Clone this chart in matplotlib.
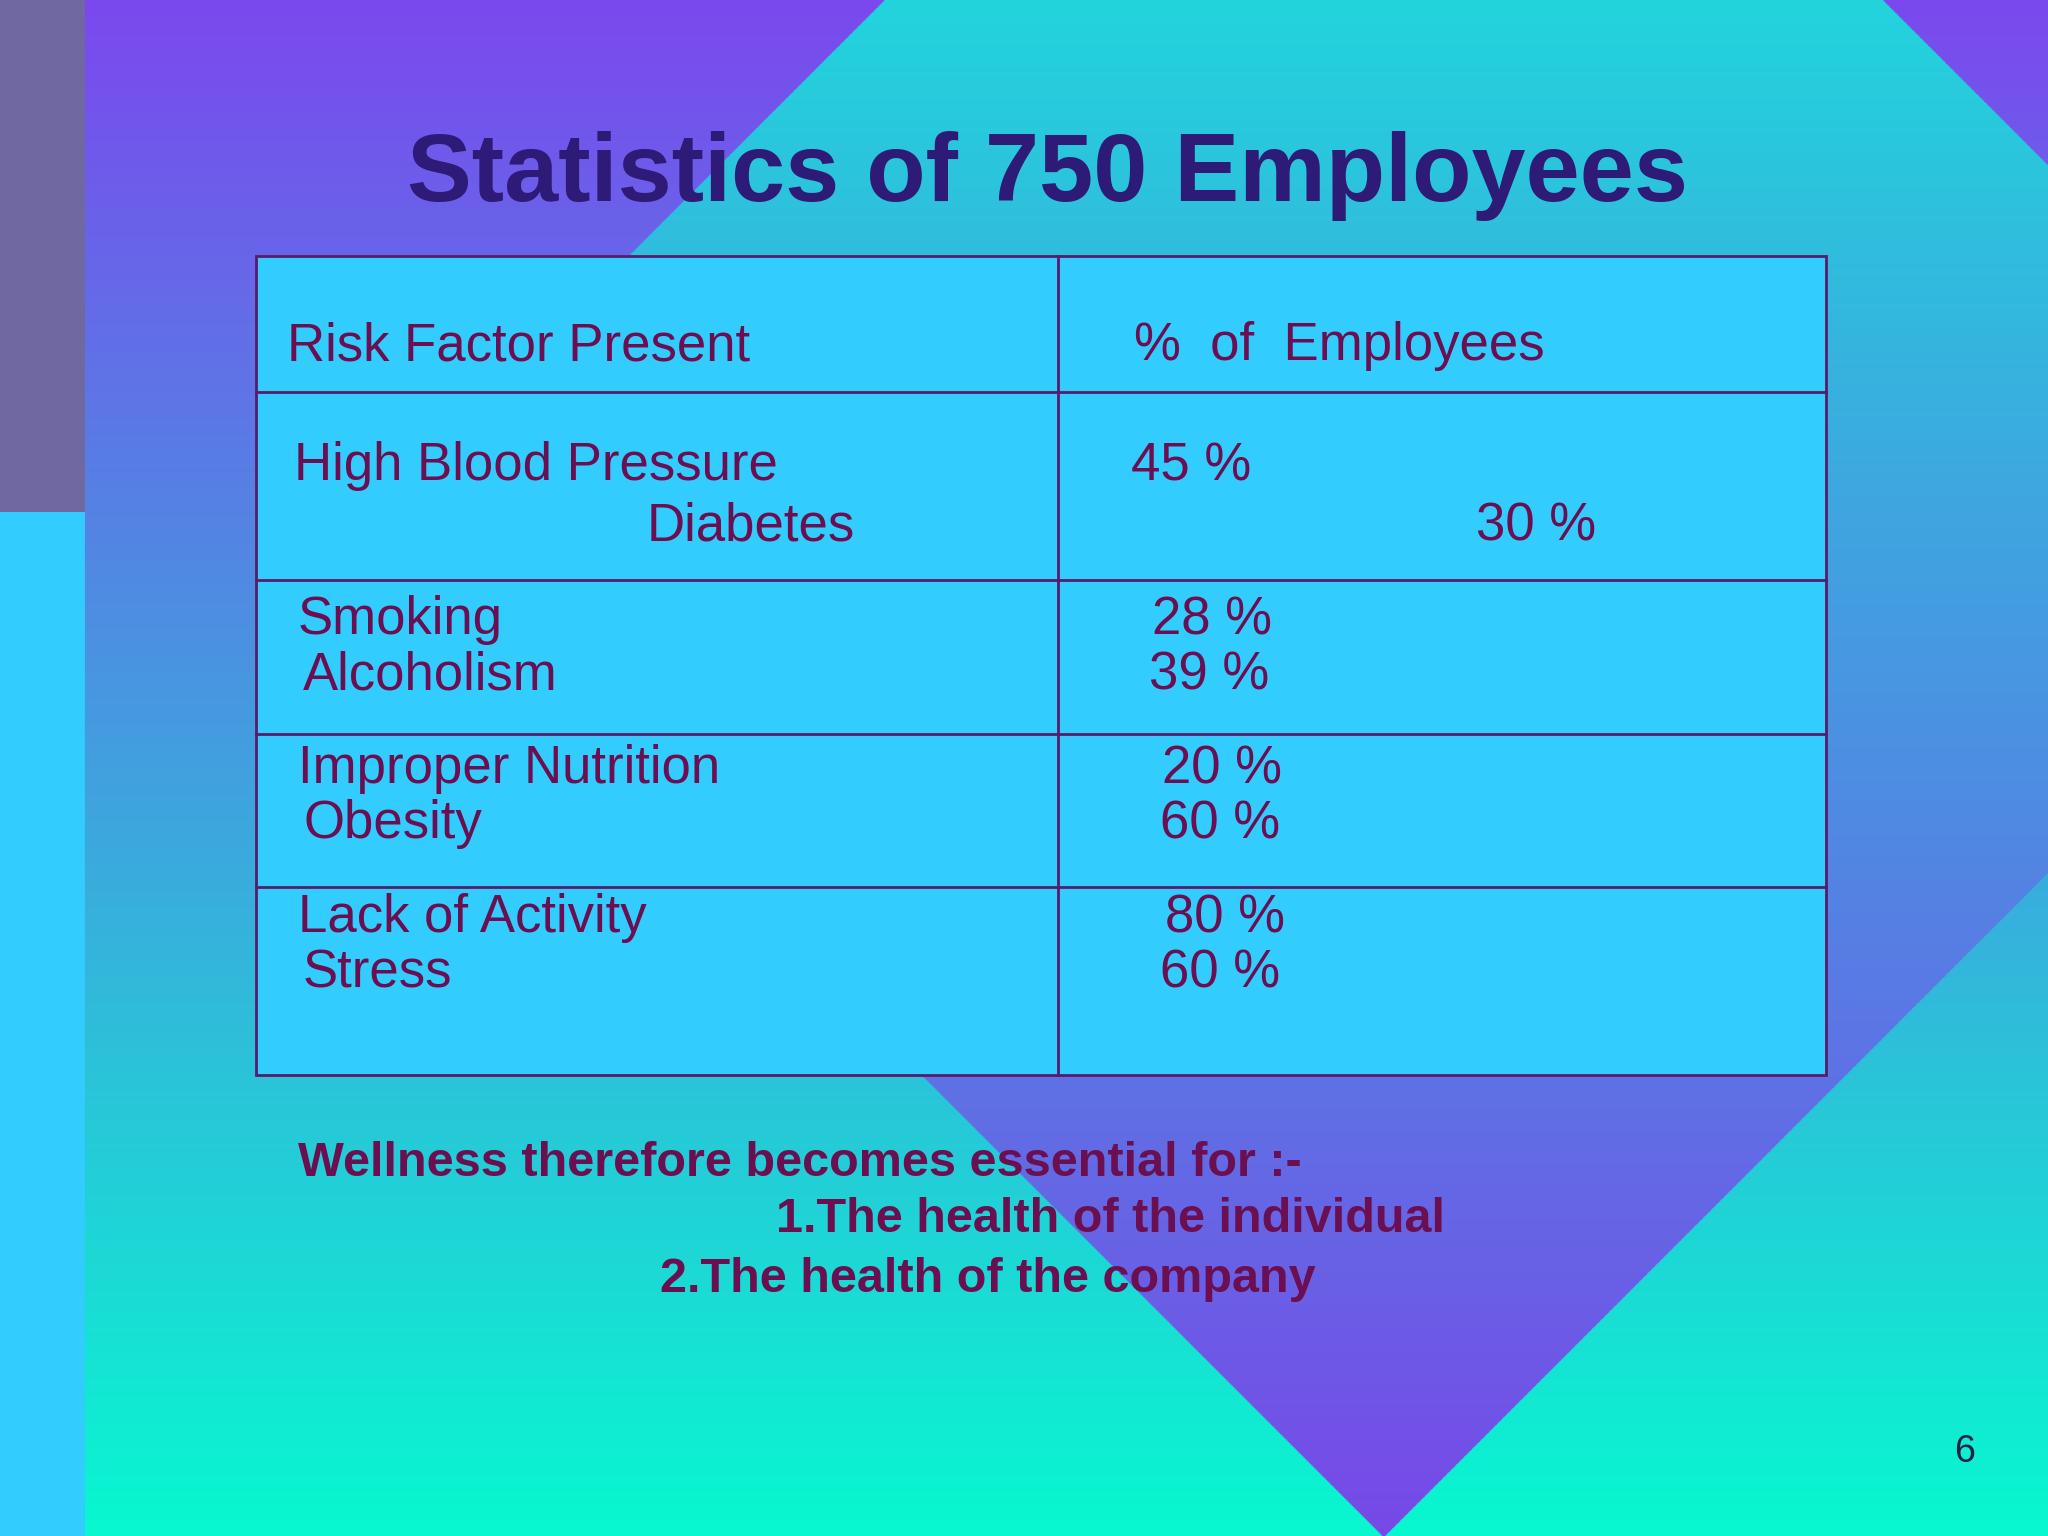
import numpy as np
import matplotlib.pyplot as plt
from matplotlib.patches import Rectangle

# slide content
title = "Statistics of 750 Employees"
header = ["Risk Factor Present", "%  of  Employees"]
factors = ["High Blood Pressure", "Diabetes", "Smoking", "Alcoholism",
           "Improper Nutrition", "Obesity", "Lack of Activity", "Stress"]
percents = [45, 30, 28, 39, 20, 60, 80, 60]
footer = ["Wellness therefore becomes essential for :-",
          "1.The health of the individual",
          "2.The health of the company"]
page_no = "6"

W, H = 1568, 1176
fig = plt.figure(figsize=(20.48, 15.36), dpi=100)
ax = fig.add_axes([0, 0, 1, 1])
ax.set_xlim(0, W)
ax.set_ylim(H, 0)
ax.axis('off')

# background gradients
yy, xx = np.mgrid[0:H, 0:W]
t = yy / H
purple = np.array([0x7b, 0x48, 0xee]) / 255
teal = np.array([0x08, 0xf8, 0xd0]) / 255
bg = purple[None, None, :] * (1 - t[..., None]) + teal[None, None, :] * t[..., None]
# diamond with reversed gradient
cx, cy, r = 1059, 397, 779
inside = (np.abs(xx - cx) + np.abs(yy - cy)) <= r
td = np.clip((yy - 0) / (cy + r), 0, 1)
top_c = np.array([0x22, 0xd4, 0xdc]) / 255
bot_c = np.array([0x78, 0x48, 0xe8]) / 255
dg = top_c[None, None, :] * (1 - td[..., None]) + bot_c[None, None, :] * td[..., None]
bg[inside] = dg[inside]
# left strip
bg[:392, :65] = np.array([0x70, 0x68, 0xa0]) / 255
bg[392:, :65] = np.array([0x33, 0xcc, 0xff]) / 255
ax.imshow(bg, extent=(0, W, H, 0), aspect='auto', zorder=0)

ax.text(802, 135, title, ha='center', va='center', fontsize=70,
        fontweight='bold', color='#2e1b78', family='Liberation Sans')

# table
edge = '#5a1a6a'
ax.add_patch(Rectangle((196, 196), 1202, 627, facecolor='#33ccff',
                       edgecolor=edge, lw=2, zorder=2))
ax.plot([810, 810], [196, 823], color=edge, lw=2, zorder=3)
for y in [300, 444, 562, 679]:
    ax.plot([196, 1398], [y, y], color=edge, lw=2, zorder=3)

tc = '#6b0f50'
fs = 38
ax.text(220, 265, header[0], fontsize=fs, color=tc, va='center', family='Liberation Sans', zorder=4)
ax.text(868, 265, header[1], fontsize=fs, color=tc, va='center', family='Liberation Sans', zorder=4)

name_pos = [(225, 357), (495, 403), (228, 475), (232, 517),
            (228, 589), (232, 631), (228, 703), (232, 745)]
pct_pos = [(866, 357), (1130, 403), (882, 475), (880, 517),
           (890, 589), (888, 631), (892, 703), (888, 745)]
for name, p, (nx, ny), (px, py) in zip(factors, percents, name_pos, pct_pos):
    ax.text(nx, ny, name, fontsize=fs, color=tc, va='center', family='Liberation Sans', zorder=4)
    ax.text(px, py, f"{p} %", fontsize=fs, color=tc, va='center', family='Liberation Sans', zorder=4)

foot_pos = [(228, 891), (594, 934), (505, 980)]
for txt, (fx, fy) in zip(footer, foot_pos):
    ax.text(fx, fy, txt, fontsize=35, fontweight='bold', color=tc,
            va='center', family='Liberation Sans', zorder=4)

ax.text(1504, 1112, page_no, fontsize=27, color='#222244', ha='center',
        va='center', family='Liberation Sans', zorder=4)

fig.savefig('out.png', dpi=100)
